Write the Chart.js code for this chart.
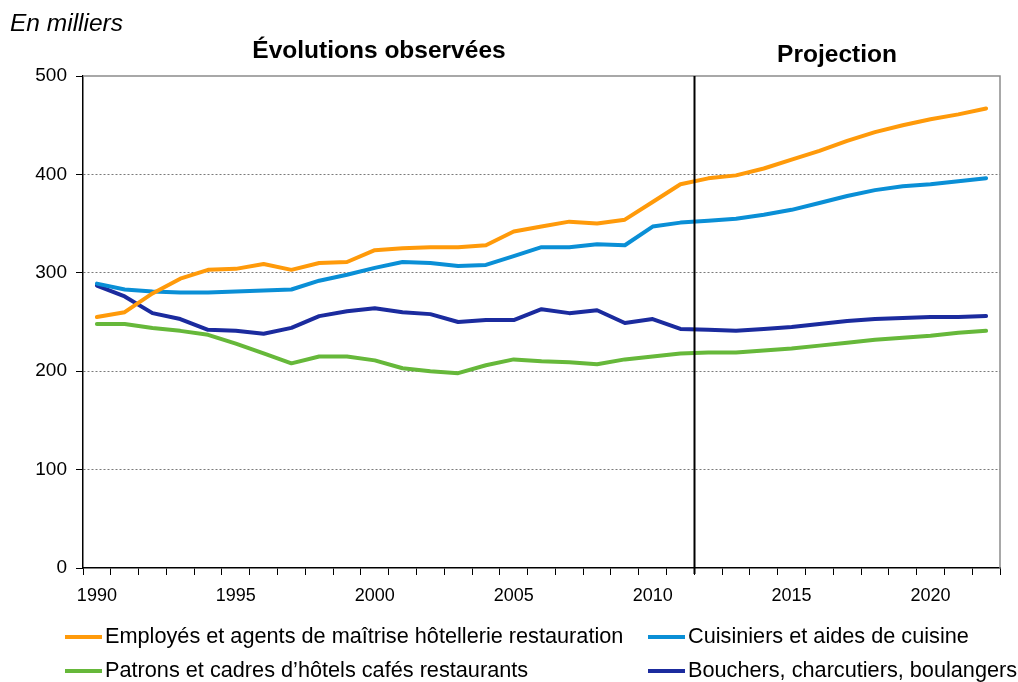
<!DOCTYPE html>
<html lang="fr">
<head>
<meta charset="utf-8">
<title>Emplois hôtellerie restauration</title>
<script src="https://cdn.jsdelivr.net/npm/chart.js@4.4.1/dist/chart.umd.min.js"></script>
<style>
  html, body { margin: 0; padding: 0; background: #fff; }
  #wrap { width: 1018px; height: 682px; position: relative; }
</style>
</head>
<body>
<div id="wrap"><canvas id="chart" width="1018" height="682"></canvas></div>
<script>
const years = [];
for (let y = 1990; y <= 2022; y++) years.push(String(y));

const employes = [255, 260, 279, 294, 303, 304, 309, 303, 310, 311, 323, 325, 326, 326, 328, 342, 347, 352, 350, 354, 372, 390, 396, 399, 406, 415, 424, 434, 443, 450, 456, 461, 467];
const cuisiniers = [289, 283, 281, 280, 280, 281, 282, 283, 292, 298, 305, 311, 310, 307, 308, 317, 326, 326, 329, 328, 347, 351, 353, 355, 359, 364, 371, 378, 384, 388, 390, 393, 396];
const patrons = [248, 248, 244, 241, 237, 228, 218, 208, 215, 215, 211, 203, 200, 198, 206, 212, 210, 209, 207, 212, 215, 218, 219, 219, 221, 223, 226, 229, 232, 234, 236, 239, 241];
const bouchers = [287, 276, 259, 253, 242, 241, 238, 244, 256, 261, 264, 260, 258, 250, 252, 252, 263, 259, 262, 249, 253, 243, 242, 241, 243, 245, 248, 251, 253, 254, 255, 255, 256];

const yTicks = [0, 100, 200, 300, 400, 500];
const lastObserved = '2011';

const FONT = 'Arial, "Liberation Sans", sans-serif';

// frame, divider, section titles and legend drawn on the canvas
const extras = {
  id: 'extras',
  beforeDatasetsDraw(chart) {
    const { ctx, chartArea: a } = chart;
    ctx.save();
    ctx.strokeStyle = '#8c8c8c';
    ctx.lineWidth = 1.5;
    ctx.beginPath();
    ctx.moveTo(a.left, a.top);
    ctx.lineTo(a.right, a.top);
    ctx.lineTo(a.right, a.bottom);
    ctx.stroke();
    ctx.restore();
  },
  afterDatasetsDraw(chart) {
    const { ctx, chartArea: a, scales: { x } } = chart;
    const i = years.indexOf(lastObserved);
    const xd = Math.round((x.getPixelForValue(i) + x.getPixelForValue(i + 1)) / 2) + 0.5;
    ctx.save();
    ctx.strokeStyle = '#000';
    ctx.lineWidth = 2;
    ctx.beginPath();
    ctx.moveTo(xd, a.top);
    ctx.lineTo(xd, a.bottom + 6);
    ctx.stroke();

    ctx.fillStyle = '#000';
    ctx.textBaseline = 'alphabetic';
    ctx.font = 'italic 24.5px ' + FONT;
    ctx.textAlign = 'left';
    ctx.fillText('En milliers', 10, 31);

    ctx.font = 'bold 24.5px ' + FONT;
    ctx.textAlign = 'center';
    ctx.fillText('Évolutions observées', 379, 58);
    ctx.fillText('Projection', 837, 62);

    // legend, two columns
    const cols = [65, 648];
    const rows = [637, 671];
    ctx.font = '21.7px ' + FONT;
    ctx.textAlign = 'left';
    ctx.textBaseline = 'middle';
    chart.data.datasets.forEach((ds, k) => {
      const lx = cols[k % 2];
      const ly = rows[Math.floor(k / 2)];
      ctx.strokeStyle = ds.borderColor;
      ctx.lineWidth = 4;
      ctx.beginPath();
      ctx.moveTo(lx, ly);
      ctx.lineTo(lx + 37, ly);
      ctx.stroke();
      ctx.fillStyle = '#000';
      ctx.fillText(ds.label, lx + 40, ly);
    });
    ctx.restore();
  }
};

const line = (label, data, color) => ({
  label, data,
  borderColor: color,
  backgroundColor: color,
  borderWidth: 4,
  pointRadius: 0,
  tension: 0,
  borderCapStyle: 'round',
  borderJoinStyle: 'round'
});

new Chart(document.getElementById('chart'), {
  type: 'line',
  data: {
    labels: years,
    datasets: [
      line('Employés et agents de maîtrise hôtellerie restauration', employes, '#FF9A0A'),
      line('Cuisiniers et aides de cuisine', cuisiniers, '#0A8FD6'),
      line('Patrons et cadres d\u2019hôtels cafés restaurants', patrons, '#66B83A'),
      line('Bouchers, charcutiers, boulangers', bouchers, '#1B2B9E')
    ]
  },
  options: {
    responsive: false,
    animation: false,
    devicePixelRatio: 1,
    layout: { padding: { left: 0, top: 76, right: 18, bottom: 0 } },
    plugins: {
      legend: { display: false },
      title: { display: false },
      tooltip: { enabled: false }
    },
    scales: {
      x: {
        type: 'category',
        offset: true,
        afterFit: s => { s.height = 114; },
        grid: {
          offset: true,
          drawOnChartArea: false,
          tickLength: 7,
          tickColor: '#000',
          tickWidth: 1
        },
        border: { color: '#000', width: 1.5 },
        ticks: {
          autoSkip: false,
          maxRotation: 0,
          minRotation: 0,
          padding: 10,
          color: '#000',
          font: { family: FONT, size: 18 },
          callback: function (v) {
            const y = +this.getLabelForValue(v);
            return y % 5 === 0 ? String(y) : '';
          }
        }
      },
      y: {
        min: 0,
        max: 500,
        afterFit: s => { s.width = 83; },
        afterBuildTicks: s => { s.ticks = yTicks.map(v => ({ value: v })); },
        grid: {
          color: c => (c.tick && c.tick.value > 0 && c.tick.value < 500) ? '#7a7a7a' : 'rgba(0,0,0,0)',
          lineWidth: 1,
          tickLength: 7,
          tickColor: '#000'
        },
        border: { color: '#000', width: 1.5, dash: [2, 2] },
        ticks: {
          padding: 9,
          color: '#000',
          font: { family: FONT, size: 19 }
        }
      }
    }
  },
  plugins: [extras]
});
</script>
</body>
</html>
